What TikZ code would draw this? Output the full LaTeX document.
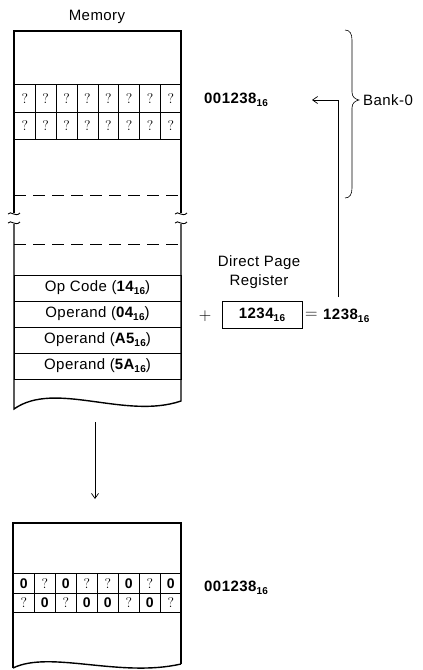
\documentclass[tikz,border=0pt]{standalone}
\usepackage{fontspec}
\newfontfamily\hv[LetterSpace=3]{Liberation Sans}
\usetikzlibrary{arrows.meta,calc}
\newcommand\hx[1]{{\bfseries #1\raisebox{-0.4ex}{\fontsize{10}{10}\selectfont\bfseries 16}}}
\begin{document}
\begin{tikzpicture}[x=1pt,y=-1pt,
  lbl/.style={font=\hv\fontsize{15}{19}\selectfont, inner sep=0pt},
  thinline/.style={line width=0.6pt},
  outline/.style={line width=1.4pt},
  qcell/.style={draw, line width=0.6pt, minimum width=20.875pt, minimum height=#1,
    inner sep=0pt, anchor=north west, font=\fontsize{14}{14}\selectfont},
  zcell/.style={qcell=#1, font=\hv\bfseries\fontsize{14}{14}\selectfont},
  memrow/.style={draw, line width=0.6pt, minimum width=167pt, minimum height=26pt,
    inner sep=0pt, font=\hv\fontsize{15}{16}\selectfont},
  arr/.style={line width=0.7pt, -{Straight Barb[length=5pt,width=7pt]}},
  brk/.style={line width=0.9pt}
]
\useasboundingbox (0,0) rectangle (423,670);

% ---------- top memory ----------
\node[lbl] (memlbl) at (97,17) {Memory};
\draw[outline] (14,213) -- (14,31) -- (181,31) -- (181,213);
\draw[outline] (14,224) -- (14,409) .. controls (55,380) and (125,420) .. (181,401) -- (181,224);
% break marks
\draw[brk] (8,214) .. controls (11,210) and (15,218) .. (20,213);
\draw[brk] (8,223) .. controls (11,219) and (15,227) .. (20,222);
\draw[brk] (175,214) .. controls (178,210) and (182,218) .. (187,213);
\draw[brk] (175,223) .. controls (178,219) and (182,227) .. (187,222);
% cells
\foreach \k in {0,...,7}{
  \node[qcell=28pt] (a\k) at (14+\k*20.875,84) {?};
  \node[qcell=27pt] (b\k) at (14+\k*20.875,112) {?};
}
% dashed lines
\draw[thinline, dash pattern=on 12pt off 7pt] (14,195) -- (181,195);
\draw[thinline, dash pattern=on 12pt off 7pt] (14,244) -- (181,244);
% rows
\node[memrow] (op)  at (97.5,288) {Op Code (\hx{14})};
\node[memrow] (od1) at (97.5,314) {Operand (\hx{04})};
\node[memrow] (od2) at (97.5,340) {Operand (\hx{A5})};
\node[memrow] (od3) at (97.5,366) {Operand (\hx{5A})};

% ---------- address computation ----------
\node[lbl, anchor=west] (addr) at (204,100) {\hx{001238}};
\node[lbl, align=center] (dprl) at (259,272) {Direct Page\\Register};
\node[draw, thinline, minimum width=80pt, minimum height=27pt, inner sep=0pt,
  font=\hv\fontsize{15}{16}\selectfont] (dpr) at (262,314.5) {\hx{1234}};
\node[inner sep=0pt, font=\fontsize{16}{16}\selectfont] (plus) at (205,316) {$+$};
\node[inner sep=0pt, font=\fontsize{16}{16}\selectfont, anchor=west] (eq) at (305,315) {$=$};
\node[lbl, anchor=west] (res) at (323,316) {\hx{1238}};
\coordinate (up) at (338,297);
\coordinate (tip) at (312,100);
\draw[arr] (up) |- (tip);

% brace
\draw[line width=0.6pt] (345,30) .. controls (350,30) and (352,34) .. (352,40)
  -- (352,92) .. controls (352,97) and (355,99) .. (359,100)
  .. controls (355,101) and (352,103) .. (352,108)
  -- (352,188) .. controls (352,194) and (350,198) .. (345,198);
\node[lbl, anchor=west] (bank) at (363,100) {Bank-0};

% ---------- arrow down ----------
\coordinate (d1) at (95,422);
\coordinate (d2) at (95,499);
\draw[arr] (d1) -- (d2);

% ---------- bottom memory ----------
\draw[outline] (13,668) -- (13,523) -- (181,523) -- (181,664);
\draw[outline] (13,668) .. controls (50,650) and (120,678) .. (181,664);
\foreach \v [count=\i from 0] in {0,?,0,?,?,0,?,0}{
  \if0\v
    \node[zcell=20pt] (c\i) at (13+\i*21,573) {0};
  \else
    \node[qcell=20pt] (c\i) at (13+\i*21,573) {?};
  \fi
}
\foreach \v [count=\i from 0] in {?,0,?,0,0,?,0,?}{
  \if0\v
    \node[zcell=19pt] (e\i) at (13+\i*21,593) {0};
  \else
    \node[qcell=19pt] (e\i) at (13+\i*21,593) {?};
  \fi
}
\node[lbl, anchor=west] (addr2) at (204,588) {\hx{001238}};
\end{tikzpicture}
\end{document}
